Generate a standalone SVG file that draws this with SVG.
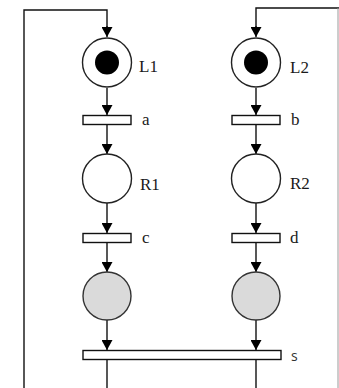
<svg xmlns="http://www.w3.org/2000/svg" width="339" height="388" viewBox="0 0 339 388">
  <defs>
    <marker id="arrow" markerUnits="userSpaceOnUse" markerWidth="11" markerHeight="11" refX="10" refY="5.5" orient="auto">
      <path d="M0,0 L10,5.5 L0,11 z" fill="#000"/>
    </marker>
  </defs>
  <style>
    .wire { fill: none; stroke: #111; stroke-width: 1.4; }
    .flow { fill: none; stroke: #111; stroke-width: 1.4; marker-end: url(#arrow); }
    .edge { fill: none; stroke: #9a9a9a; stroke-width: 1; }
    .place { fill: #fff; stroke: #222; stroke-width: 1.4; }
    .done { fill: #dadada; stroke: #333; stroke-width: 1.4; }
    .token { fill: #000; }
    .bar { fill: #fff; stroke: #111; stroke-width: 1.4; }
    .lbl { font-family: "Liberation Serif", "Times New Roman", serif; font-size: 17px; fill: #1a1a1a; }
    .lbl-s { font-family: "Open Sans", "Liberation Sans", sans-serif; font-size: 14px; fill: #333; }
  </style>

  <rect width="339" height="388" fill="#fff"/>

  <!-- connectors -->
  <g id="connectors">
    <!-- feedback loops into the initial places -->
    <path class="wire" d="M24,388 V10 H107 V28"/>
    <path class="flow" d="M107,26 V37"/>
    <path class="wire" d="M256,28 V8 H339"/>
    <path class="flow" d="M256,26 V37"/>
    <path class="edge" d="M338,8 V388"/>
    <!-- left column -->
    <path class="flow" d="M107,88 V115"/>
    <path class="flow" d="M107,125 V154"/>
    <path class="flow" d="M107,203 V233"/>
    <path class="flow" d="M107,243 V272"/>
    <path class="flow" d="M107,320 V350"/>
    <path class="wire" d="M107,360 V388"/>
    <!-- right column -->
    <path class="flow" d="M256,88 V115"/>
    <path class="flow" d="M256,125 V154"/>
    <path class="flow" d="M256,203 V233"/>
    <path class="flow" d="M256,243 V272"/>
    <path class="flow" d="M256,320 V350"/>
    <path class="wire" d="M256,360 V388"/>
  </g>

  <!-- places -->
  <g id="L1">
    <circle class="place" cx="107" cy="62.5" r="24.5" stroke-width="2"/>
    <circle class="token" cx="107" cy="62.5" r="12"/>
    <text class="lbl" x="139" y="72">L1</text>
  </g>
  <g id="L2">
    <circle class="place" cx="256" cy="62.5" r="24.5" stroke-width="2"/>
    <circle class="token" cx="256" cy="62.5" r="12"/>
    <text class="lbl" x="290" y="73">L2</text>
  </g>
  <g id="R1">
    <circle class="place" cx="107" cy="178.5" r="24.5"/>
    <text class="lbl" x="140" y="190">R1</text>
  </g>
  <g id="R2">
    <circle class="place" cx="256" cy="178.5" r="24.5"/>
    <text class="lbl" x="290" y="189">R2</text>
  </g>
  <g id="P1">
    <circle class="done" cx="107" cy="296" r="24"/>
  </g>
  <g id="P2">
    <circle class="done" cx="256" cy="296" r="24"/>
  </g>

  <!-- transitions -->
  <g id="a">
    <rect class="bar" x="83" y="115.5" width="48" height="9"/>
    <text class="lbl" x="142" y="125">a</text>
  </g>
  <g id="b">
    <rect class="bar" x="232" y="115.5" width="48" height="9"/>
    <text class="lbl" x="291" y="125">b</text>
  </g>
  <g id="c">
    <rect class="bar" x="83" y="233.5" width="48" height="9"/>
    <text class="lbl" x="142" y="243">c</text>
  </g>
  <g id="d">
    <rect class="bar" x="232" y="233.5" width="48" height="9"/>
    <text class="lbl" x="290" y="243">d</text>
  </g>
  <g id="s">
    <rect class="bar" x="83" y="350.5" width="198" height="9"/>
    <text class="lbl-s" x="291" y="361">s</text>
  </g>
</svg>
